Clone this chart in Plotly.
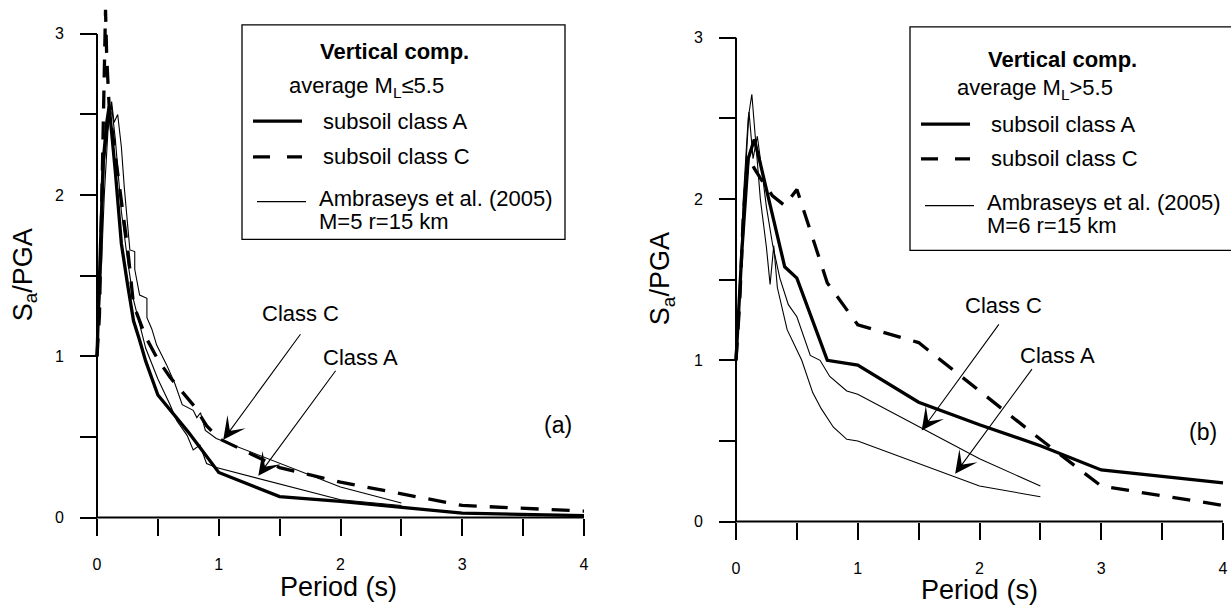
import plotly.graph_objects as go

# ---------------- data ----------------
# (a) average M_L <= 5.5 : spectral shapes Sa/PGA vs period T (s)
a_A_T = [0, 0.03, 0.05, 0.08, 0.10, 0.15, 0.20, 0.25, 0.30, 0.35, 0.40, 0.50, 0.75, 1.00, 1.50, 2.00, 3.00, 4.00]
a_A_Sa = [1.00, 1.70, 2.20, 2.45, 2.55, 2.15, 1.70, 1.45, 1.22, 1.10, 0.97, 0.76, 0.53, 0.28, 0.13, 0.10, 0.027, 0.012]

a_C_T = [0, 0.02, 0.04, 0.06, 0.07, 0.08, 0.10, 0.15, 0.20, 0.25, 0.30, 0.40, 0.50, 0.60, 0.70, 0.80, 0.90, 1.00, 1.50, 2.00, 3.00, 4.00]
a_C_Sa = [1.00, 1.25, 2.00, 2.75, 3.15, 2.85, 2.55, 2.25, 1.98, 1.68, 1.32, 1.12, 0.98, 0.87, 0.78, 0.69, 0.57, 0.49, 0.31, 0.22, 0.075, 0.04]

a_ambA_T = [0, 0.03, 0.06, 0.10, 0.12, 0.15, 0.20, 0.25, 0.30, 0.40, 0.50, 0.60, 0.655, 0.74, 0.79, 0.845, 0.90, 0.98, 2.00, 2.50]
a_ambA_Sa = [1.00, 1.60, 2.20, 2.50, 2.55, 2.35, 1.90, 1.60, 1.35, 1.05, 0.86, 0.70, 0.60, 0.51, 0.42, 0.45, 0.335, 0.31, 0.11, 0.075]

a_ambC_T = [0, 0.03, 0.06, 0.09, 0.12, 0.14, 0.17, 0.20, 0.225, 0.27, 0.31, 0.31, 0.35, 0.41, 0.41, 0.45, 0.49,
            0.57, 0.64, 0.70, 0.79, 0.82, 0.85, 0.89, 0.98, 2.00, 2.50]
a_ambC_Sa = [1.00, 1.45, 2.00, 2.40, 2.58, 2.45, 2.50, 2.30, 2.04, 1.66, 1.65, 1.54, 1.38, 1.36, 1.24, 1.17, 1.07,
             0.95, 0.83, 0.70, 0.665, 0.62, 0.65, 0.54, 0.49, 0.19, 0.09]

# (b) average M_L > 5.5
b_A_T = [0, 0.03, 0.05, 0.10, 0.15, 0.20, 0.30, 0.40, 0.50, 0.75, 1.00, 1.50, 2.00, 2.50, 3.00, 4.00]
b_A_Sa = [1.00, 1.40, 1.70, 2.25, 2.37, 2.22, 1.90, 1.58, 1.51, 1.00, 0.97, 0.74, 0.60, 0.47, 0.32, 0.24]

b_C_T = [0, 0.03, 0.06, 0.10, 0.15, 0.20, 0.30, 0.40, 0.50, 0.60, 0.75, 1.00, 1.50, 2.00, 2.50, 3.00, 4.00]
b_C_Sa = [1.00, 1.35, 1.90, 2.27, 2.19, 2.13, 2.02, 1.96, 2.06, 1.83, 1.48, 1.22, 1.11, 0.81, 0.51, 0.22, 0.10]

b_ambA_T = [0, 0.03, 0.06, 0.10, 0.13, 0.15, 0.20, 0.25, 0.28, 0.31, 0.34, 0.42, 0.54, 0.63, 0.70, 0.80, 0.91, 1.00, 2.00, 2.50]
b_ambA_Sa = [1.00, 1.45, 2.00, 2.50, 2.65, 2.45, 2.00, 1.70, 1.47, 1.71, 1.45, 1.19, 1.00, 0.80, 0.70, 0.585, 0.51, 0.50, 0.22, 0.154]

b_ambC_T = [0, 0.03, 0.06, 0.107, 0.14, 0.175, 0.20, 0.25, 0.30, 0.36, 0.43, 0.50, 0.61, 0.69, 0.77, 0.85, 0.91, 1.00, 2.00, 2.50]
b_ambC_Sa = [1.00, 1.40, 1.95, 2.54, 2.25, 2.39, 2.25, 1.95, 1.72, 1.51, 1.345, 1.27, 1.03, 1.00, 0.90, 0.85, 0.81, 0.79, 0.39, 0.22]

# axis ticks (labelled majors, unlabelled half-steps)
x_major = [0, 1, 2, 3, 4]
x_minor = [0.5, 1.5, 2.5, 3.5]
y_major = [0, 1, 2, 3]
y_minor = [0.5, 1.5, 2.5]

legend_a = ["<b>Vertical comp.</b>", "average M<sub>L</sub>≤5.5", "subsoil class A", "subsoil class C",
            "Ambraseys et al. (2005)", "M=5 r=15 km"]
legend_b = ["<b>Vertical comp.</b>", "average M<sub>L</sub>>5.5", "subsoil class A", "subsoil class C",
            "Ambraseys et al. (2005)", "M=6 r=15 km"]

# ---------------- layout geometry ----------------
W, H = 1231, 606
FONT = "Liberation Sans, Arial, Helvetica, sans-serif"
SX, SY = 121.75, 162.3          # pixels per second / per unit Sa/PGA
X_LO, X_HI = -0.05, 4.05
Y_LO, Y_HI = -0.03, 3.2


def fx(p):
    return p / W


def fy(p):
    return 1 - p / H


panels = [
    dict(ox=97, oy=521, xa="x", ya="y", tag="(a)", tagpos=(558, 428),
         series=[(a_A_T, a_A_Sa, "A"), (a_C_T, a_C_Sa, "C"), (a_ambA_T, a_ambA_Sa, "amb"), (a_ambC_T, a_ambC_Sa, "amb")],
         # label, label centre (px), arrow tip (T, Sa), arrow tail (T, Sa)
         arrows=[("Class C", (300, 316), (1.037, 0.482), (1.68, 1.146)),
                 ("Class A", (360, 360), (1.325, 0.259), (1.969, 0.92))],
         box=(242, 25, 565, 241), legend=legend_a, lx=242,
         rows=[52, 88, 122, 158, 200, 223], xt=(338, 591), yt=(25, 277)),
    dict(ox=736, oy=525, xa="x2", ya="y2", tag="(b)", tagpos=(1203, 435),
         series=[(b_A_T, b_A_Sa, "A"), (b_C_T, b_C_Sa, "C"), (b_ambA_T, b_ambA_Sa, "amb"), (b_ambC_T, b_ambC_Sa, "amb")],
         arrows=[("Class C", (1003, 308), (1.525, 0.565), (2.168, 1.232)),
                 ("Class A", (1057, 358), (1.80, 0.296), (2.44, 0.955))],
         box=(910, 27, 1240, 252), legend=legend_b, lx=910,
         rows=[60, 90, 125, 160, 204, 227], xt=(979, 594), yt=(662, 281)),
]

styles = {
    "A": dict(color="black", width=3.3),
    "C": dict(color="black", width=3.3, dash="18px,13px"),
    "amb": dict(color="black", width=1.1),
}

tick_style = dict(ticks="outside", ticklen=17, tickwidth=1.6, tickcolor="black")

fig = go.Figure()
shapes, annotations = [], []
layout = dict(width=W, height=H, margin=dict(l=0, r=0, t=0, b=0), paper_bgcolor="white",
              plot_bgcolor="white", showlegend=False, font=dict(family=FONT, color="black"))

for i, p in enumerate(panels):
    sfx = "" if i == 0 else "2"
    ox, oy = p["ox"], p["oy"]
    for T, S, kind in p["series"]:
        fig.add_trace(go.Scatter(x=T, y=S, mode="lines", line=styles[kind],
                                 xaxis=p["xa"], yaxis=p["ya"], hoverinfo="skip"))
    layout["xaxis" + sfx] = dict(
        domain=[fx(ox + X_LO * SX), fx(ox + X_HI * SX)], range=[X_LO, X_HI],
        anchor="free", position=fy(oy), showline=False, showgrid=False, zeroline=False,
        tickmode="array", tickvals=x_major, **tick_style,
        minor=dict(tickvals=x_minor, showgrid=False, **tick_style),
        tickfont=dict(family=FONT, size=16, color="black"), ticklabelstandoff=15)
    layout["yaxis" + sfx] = dict(
        domain=[fy(oy - Y_LO * SY), fy(oy - Y_HI * SY)], range=[Y_LO, Y_HI],
        anchor="free", position=fx(ox), showline=False, showgrid=False, zeroline=False,
        tickmode="array", tickvals=y_major, **tick_style,
        minor=dict(tickvals=y_minor, showgrid=False, **tick_style),
        tickfont=dict(family=FONT, size=16, color="black"), ticklabelstandoff=13)

    # axis lines
    shapes.append(dict(type="line", xref=p["xa"], yref=p["ya"], x0=0, x1=4, y0=0, y1=0,
                       line=dict(color="black", width=2)))
    shapes.append(dict(type="line", xref=p["xa"], yref=p["ya"], x0=0, x1=0, y0=0, y1=3,
                       line=dict(color="black", width=2)))

    # axis titles
    annotations.append(dict(text="Period (s)", x=fx(p["xt"][0]), y=fy(p["xt"][1]), xref="paper", yref="paper",
                            showarrow=False, font=dict(size=27), xanchor="center", yanchor="middle"))
    annotations.append(dict(text="S<sub>a</sub>/PGA", x=fx(p["yt"][0]), y=fy(p["yt"][1]), xref="paper",
                            yref="paper", showarrow=False, font=dict(size=27), textangle=-90,
                            xanchor="center", yanchor="middle"))

    # panel tag
    annotations.append(dict(text=p["tag"], x=fx(p["tagpos"][0]), y=fy(p["tagpos"][1]), xref="paper", yref="paper",
                            showarrow=False, font=dict(size=23), xanchor="center", yanchor="middle"))

    # class labels and the arrows pointing at their curves
    for label, (tx, ty), tip, tail in p["arrows"]:
        annotations.append(dict(text=label, x=fx(tx), y=fy(ty), xref="paper", yref="paper", showarrow=False,
                                font=dict(size=22), xanchor="center", yanchor="middle"))
        annotations.append(dict(text="", x=tip[0], y=tip[1], xref=p["xa"], yref=p["ya"],
                                ax=tail[0], ay=tail[1], axref=p["xa"], ayref=p["ya"], showarrow=True,
                                arrowhead=3, arrowsize=3.4, arrowwidth=1.1, arrowcolor="black"))

    # legend box
    bx0, by0, bx1, by1 = p["box"]
    shapes.append(dict(type="rect", xref="paper", yref="paper", x0=fx(bx0), x1=fx(bx1), y0=fy(by0), y1=fy(by1),
                       line=dict(color="black", width=1.3), fillcolor="white", layer="below"))
    lx = p["lx"]
    rows = p["rows"]
    lg = p["legend"]
    annotations.append(dict(text=lg[0], x=fx(lx + 152), y=fy(rows[0]), xref="paper", yref="paper",
                            showarrow=False, font=dict(size=22), xanchor="center", yanchor="middle"))
    annotations.append(dict(text=lg[1], x=fx(lx + 45), y=fy(rows[1]), xref="paper", yref="paper",
                            showarrow=False, font=dict(size=22), xanchor="left", yanchor="middle"))
    for k, (txt, kind) in enumerate([(lg[2], "A"), (lg[3], "C")]):
        yy = rows[2 + k]
        st = styles[kind]
        shapes.append(dict(type="line", xref="paper", yref="paper", x0=fx(lx + 11), x1=fx(lx + 60),
                           y0=fy(yy), y1=fy(yy),
                           line=dict(color="black", width=st["width"],
                                     dash="17px,17px" if kind == "C" else "solid")))
        annotations.append(dict(text=txt, x=fx(lx + 79), y=fy(yy), xref="paper", yref="paper",
                                showarrow=False, font=dict(size=22), xanchor="left", yanchor="middle"))
    yy = rows[4] + 3
    shapes.append(dict(type="line", xref="paper", yref="paper", x0=fx(lx + 15), x1=fx(lx + 64),
                       y0=fy(yy), y1=fy(yy), line=dict(color="black", width=1.1)))
    annotations.append(dict(text=lg[4], x=fx(lx + 75), y=fy(rows[4]), xref="paper", yref="paper",
                            showarrow=False, font=dict(size=22), xanchor="left", yanchor="middle"))
    annotations.append(dict(text=lg[5], x=fx(lx + 75), y=fy(rows[5]), xref="paper", yref="paper",
                            showarrow=False, font=dict(size=22), xanchor="left", yanchor="middle"))

layout["shapes"] = shapes
layout["annotations"] = annotations
fig.update_layout(**layout)
fig.write_html("out.html")
